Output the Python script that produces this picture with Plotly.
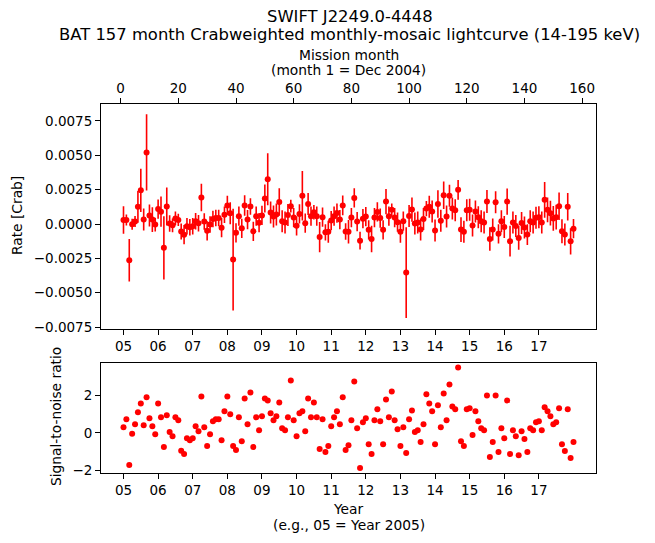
import plotly.graph_objects as go

months = list(range(1, 158))

rate = [
    0.00030, 0.00029, -0.00264, -0.00002, 0.00018, 0.00125, 0.00245, 0.00032, 0.00521, 0.00062,
    0.00032, -0.00004, 0.00109, 0.00090, -0.00173, 0.00128, 0.00003, -0.00009, 0.00041, 0.00030,
    -0.00055, -0.00078, -0.00017, -0.00023, -0.00017, 0.00021, 0.00005, 0.00193, 0.00018, -0.00049,
    -0.00004, 0.00037, 0.00043, 0.00043, -0.00027, 0.00068, 0.00135, 0.00078, -0.00259, -0.00064,
    0.00057, -0.00031, 0.00135, 0.00032, 0.00128, -0.00053, 0.00057, 0.00010, 0.00062, 0.00186,
    0.00325, 0.00083, 0.00054, 0.00070, 0.00161, 0.00020, 0.00011, 0.00066, 0.00130, 0.00047,
    -0.00013, 0.00073, 0.00205, 0.00006, 0.00146, 0.00057, 0.00085, 0.00057, -0.00095, 0.00050,
    -0.00060, -0.00056, 0.00025, 0.00057, 0.00080, 0.00032, 0.00135, -0.00055, -0.00056, 0.00047,
    0.00190, 0.00018, -0.00121, 0.00039, 0.00054, -0.00042, -0.00109, 0.00047, 0.00088, 0.00043,
    -0.00042, 0.00163, 0.00057, 0.00103, 0.00047, 0.00013, -0.00056, 0.00021, -0.00353, 0.00058,
    0.00105, 0.00003, 0.00011, -0.00039, 0.00037, 0.00112, 0.00125, 0.00091, -0.00048, 0.00146,
    0.00024, 0.00209, 0.00054, 0.00205, 0.00112, 0.00100, 0.00249, -0.00040, -0.00056, 0.00100,
    0.00104, -0.00010, 0.00091, 0.00049, 0.00020, 0.00011, 0.00164, -0.00109, -0.00039, 0.00158,
    -0.00071, 0.00020, -0.00022, 0.00163, -0.00125, 0.00011, -0.00014, -0.00101, 0.00007, -0.00026,
    -0.00077, 0.00020, 0.00011, 0.00045, 0.00049, 0.00011, 0.00176, 0.00103, 0.00079, 0.00041,
    0.00050, 0.00130, -0.00052, -0.00077, 0.00125, -0.00126, -0.00034,
]

rate_err = [
    0.00100, 0.00040, 0.00155, 0.00040, 0.00040, 0.00115, 0.00157, 0.00080, 0.00277, 0.00080,
    0.00090, 0.00050, 0.00070, 0.00110, 0.00230, 0.00138, 0.00060, 0.00050, 0.00050, 0.00045,
    0.00058, 0.00070, 0.00060, 0.00060, 0.00060, 0.00060, 0.00060, 0.00100, 0.00060, 0.00070,
    0.00060, 0.00060, 0.00060, 0.00060, 0.00070, 0.00060, 0.00070, 0.00080, 0.00370, 0.00070,
    0.00070, 0.00070, 0.00074, 0.00070, 0.00060, 0.00070, 0.00070, 0.00070, 0.00070, 0.00102,
    0.00189, 0.00080, 0.00080, 0.00080, 0.00100, 0.00080, 0.00080, 0.00080, 0.00047, 0.00070,
    0.00070, 0.00070, 0.00180, 0.00070, 0.00080, 0.00070, 0.00053, 0.00070, 0.00110, 0.00070,
    0.00059, 0.00080, 0.00070, 0.00070, 0.00070, 0.00070, 0.00072, 0.00060, 0.00086, 0.00070,
    0.00070, 0.00070, 0.00065, 0.00070, 0.00070, 0.00070, 0.00097, 0.00070, 0.00070, 0.00070,
    0.00070, 0.00092, 0.00070, 0.00047, 0.00070, 0.00070, 0.00080, 0.00070, 0.00330, 0.00080,
    0.00088, 0.00080, 0.00080, 0.00080, 0.00080, 0.00055, 0.00080, 0.00080, 0.00080, 0.00100,
    0.00080, 0.00100, 0.00080, 0.00080, 0.00080, 0.00080, 0.00072, 0.00090, 0.00080, 0.00080,
    0.00080, 0.00080, 0.00080, 0.00080, 0.00080, 0.00080, 0.00083, 0.00085, 0.00080, 0.00080,
    0.00070, 0.00080, 0.00080, 0.00095, 0.00112, 0.00080, 0.00080, 0.00086, 0.00080, 0.00080,
    0.00075, 0.00080, 0.00080, 0.00080, 0.00080, 0.00080, 0.00130, 0.00090, 0.00090, 0.00090,
    0.00090, 0.00100, 0.00087, 0.00080, 0.00100, 0.00095, 0.00070,
]

snr = [
    0.30, 0.72, -1.70, -0.05, 0.46, 1.09, 1.56, 0.40, 1.88, 0.77,
    0.35, -0.07, 1.56, 0.82, -0.75, 0.93, 0.05, -0.18, 0.82, 0.67,
    -0.95, -1.12, -0.28, -0.39, -0.28, 0.35, 0.09, 1.93, 0.30, -0.70,
    -0.07, 0.61, 0.72, 0.72, -0.39, 1.14, 1.93, 0.98, -0.70, -0.91,
    0.82, -0.44, 1.82, 0.46, 2.14, -0.75, 0.82, 0.14, 0.88, 1.82,
    1.72, 1.04, 0.67, 0.88, 1.61, 0.25, 0.14, 0.82, 2.77, 0.67,
    -0.18, 1.04, 1.14, 0.09, 1.82, 0.82, 1.61, 0.82, -0.86, 0.72,
    -1.02, -0.70, 0.35, 0.82, 1.14, 0.46, 1.88, -0.91, -0.65, 0.67,
    2.72, 0.25, -1.86, 0.56, 0.77, -0.60, -1.12, 0.67, 1.25, 0.61,
    -0.60, 1.77, 0.82, 2.19, 0.67, 0.19, -0.70, 0.30, -1.07, 0.72,
    1.19, 0.04, 0.14, -0.49, 0.46, 2.04, 1.56, 1.14, -0.60, 1.46,
    0.30, 2.09, 0.67, 2.56, 1.40, 1.25, 3.46, -0.44, -0.70, 1.25,
    1.30, -0.12, 1.14, 0.61, 0.25, 0.14, 1.98, -1.28, -0.49, 1.98,
    -1.02, 0.25, -0.28, 1.72, -1.12, 0.14, -0.18, -1.18, 0.09, -0.33,
    -1.02, 0.25, 0.14, 0.56, 0.61, 0.14, 1.35, 1.14, 0.88, 0.46,
    0.56, 1.30, -0.60, -0.96, 1.25, -1.33, -0.49,
]

year_ticks = [1 + 12 * k for k in range(13)]
year_labels = ["05", "06", "07", "08", "09", "10", "11", "12", "13", "14", "15", "16", "17"]
month_ticks = [0, 20, 40, 60, 80, 100, 120, 140, 160]

FONT = "DejaVu Sans"
TICKF = dict(family=FONT, size=13.5, color="black")
XR = [-6.8, 164.8]

fig = go.Figure()
fig.add_trace(go.Scatter(
    x=months, y=rate, mode="markers",
    marker=dict(color="red", size=6),
    error_y=dict(type="data", array=rate_err, color="red", thickness=1.6, width=0),
    xaxis="x", yaxis="y", showlegend=False,
))
fig.add_trace(go.Scatter(
    x=months, y=snr, mode="markers",
    marker=dict(color="red", size=6),
    xaxis="x2", yaxis="y2", showlegend=False,
))
fig.add_trace(go.Scatter(x=[XR[0]], y=[0], mode="markers", marker=dict(opacity=0),
                         xaxis="x3", yaxis="y", showlegend=False, hoverinfo="skip"))

axis_common = dict(showline=True, linecolor="black", linewidth=1, ticks="outside",
                   ticklen=5, tickwidth=1, tickcolor="black", showgrid=False,
                   zeroline=False, tickfont=TICKF)

# page has an 8px body margin; work in page pixel coordinates and subtract it
OFF = 8
W, H = 655 - OFF, 543 - OFF
PL, PR, PT, PB = 101, 596.5, 104, 473      # plot region in page pixels
L = PL - OFF
R = W - (PR - OFF)
T = PT - OFF
B = H - (PB - OFF)
ph = PB - PT
pw = PR - PL
top_lo = 1 - (328.5 - PT) / ph
bot_hi = 1 - (362.5 - PT) / ph

fig.update_layout(
    width=W, height=H,
    margin=dict(l=L, r=R, t=T, b=B, autoexpand=False),
    paper_bgcolor="white", plot_bgcolor="white",
    font=dict(family=FONT, color="black"),
    xaxis=dict(domain=[0, 1], anchor="y", range=XR, tickvals=year_ticks,
               ticktext=year_labels, **axis_common),
    yaxis=dict(domain=[top_lo, 1], anchor="x", range=[-0.0076, 0.00873],
               tick0=0, dtick=0.0025, tickformat=".4f", mirror=True, **axis_common),
    xaxis3=dict(overlaying="x", side="top", anchor="y", range=XR,
                tickvals=month_ticks, **axis_common),
    xaxis2=dict(domain=[0, 1], anchor="y2", range=XR, tickvals=year_ticks,
                ticktext=year_labels, mirror=True, **axis_common),
    yaxis2=dict(domain=[0, bot_hi], anchor="x2", range=[-2.126, 3.726],
                tick0=0, dtick=2, mirror=True, **axis_common),
)

def px_x(x):
    return (x - PL) / pw

def px_y(y):
    return (PB - y) / ph

ann = []
def add_text(text, x, y, size, angle=0):
    ann.append(dict(text=text, x=px_x(x), y=px_y(y), xref="paper", yref="paper",
                    showarrow=False, xanchor="center", yanchor="middle", textangle=angle,
                    borderpad=0,
                    font=dict(family=FONT, size=size, color="black")))

add_text("SWIFT J2249.0-4448", 350, 16, 16.4)
add_text("BAT 157 month Crabweighted monthly-mosaic lightcurve (14-195 keV)", 350, 34.5, 16.4)
add_text("Mission month", 349, 55, 13.8)
add_text("(month 1 = Dec 2004)", 349, 70, 13.8)
add_text("Rate [Crab]", 17, 216, 13.8, -90)
add_text("Signal-to-noise ratio", 56, 417, 13.8, -90)
add_text("Year", 349, 509, 13.8)
add_text("(e.g., 05 = Year 2005)", 349, 525, 13.8)
fig.update_layout(annotations=ann)

fig.write_html("out.html")
